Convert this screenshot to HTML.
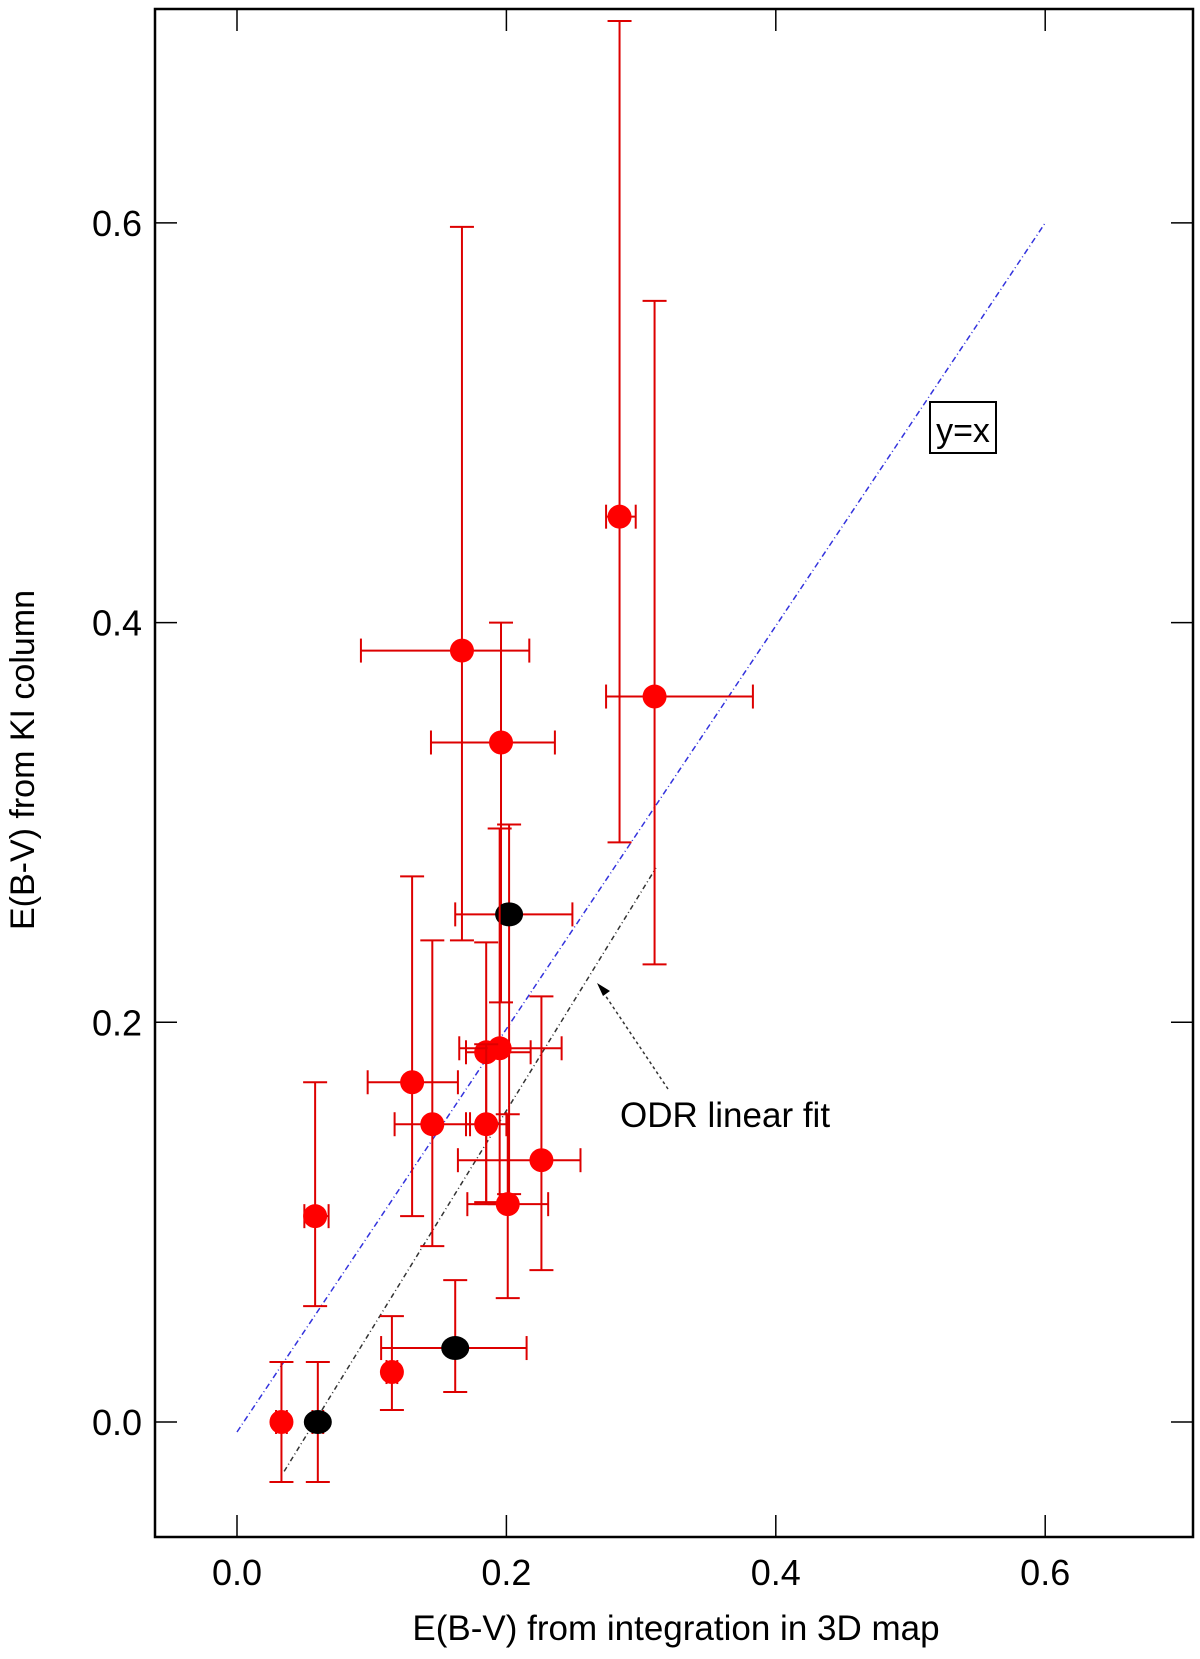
<!DOCTYPE html>
<html><head><meta charset="utf-8"><style>
html,body{margin:0;padding:0;background:#fff;}
svg{display:block;font-family:"Liberation Sans",sans-serif;}
</style></head><body>
<svg id="chart" width="1200" height="1659" viewBox="0 0 1200 1659">
<rect x="155" y="9" width="1038" height="1528" fill="none" stroke="#000" stroke-width="2.5"/>
<g id="axes"></g>
<g id="lines"></g>
<g id="points"></g>
<rect x="930" y="402" width="66" height="51" fill="#fff" stroke="#000" stroke-width="2"/>
<text x="963" y="442" font-size="34" text-anchor="middle">y=x</text>
<text x="620" y="1127" font-size="35">ODR linear fit</text>
<text x="676" y="1640" font-size="35" text-anchor="middle">E(B-V) from integration in 3D map</text>
<text transform="translate(34,760) rotate(-90)" font-size="34" text-anchor="middle">E(B-V) from KI column</text>
</svg>
<script>
const xs   = [0.033,0.060,0.058,0.115,0.162,0.130,0.145,0.167,0.196,0.202,0.185,0.195,0.185,0.201,0.226,0.284,0.310];
const ys   = [0.000,0.000,0.103,0.025,0.037,0.170,0.149,0.386,0.340,0.254,0.185,0.187,0.149,0.109,0.131,0.453,0.363];
const yUp  = [0.030,0.030,0.067,0.028,0.034,0.103,0.092,0.212,0.060,0.045,0.055,0.110,0.040,0.045,0.082,0.248,0.198];
const yDn  = [0.030,0.030,0.045,0.019,0.022,0.067,0.061,0.145,0.130,0.140,0.075,0.078,0.040,0.047,0.055,0.163,0.134];
const xLo  = [0.004,0.004,0.008,0.004,0.055,0.033,0.028,0.075,0.052,0.040,0.015,0.030,0.015,0.030,0.062,0.010,0.036];
const xHi  = [0.004,0.004,0.010,0.004,0.053,0.034,0.028,0.050,0.040,0.047,0.033,0.046,0.015,0.030,0.029,0.012,0.073];
const black= [false,true,false,false,true,false,false,false,false,true,false,false,false,false,false,false,false];
const xTicks=[0.0,0.2,0.4,0.6], xTickLabels=["0.0","0.2","0.4","0.6"];
const yTicks=[0.0,0.2,0.4,0.6], yTickLabels=["0.0","0.2","0.4","0.6"];
const fitSlope=1.094, fitIntercept=-0.063, fitRange=[0.035,0.311];
const idRange=[0.0,0.6];

const X=v=>237+v*1347, Y=v=>1422-v*1998.5;
const NS="http://www.w3.org/2000/svg";
function mk(tag,attrs,parent){const e=document.createElementNS(NS,tag);for(const k in attrs)e.setAttribute(k,attrs[k]);parent.appendChild(e);return e;}
const axes=document.getElementById('axes'),lines=document.getElementById('lines'),pts=document.getElementById('points');
xTicks.forEach((t,i)=>{
  let a=mk('line',{x1:X(t),x2:X(t),y1:1537,y2:1515,stroke:'#000','stroke-width':1.5},axes);
  
  
  let b=mk('line',{x1:X(t),x2:X(t),y1:9,y2:31,stroke:'#000','stroke-width':1.5},axes);
  
  
  let l=mk('text',{x:X(t),y:1585,'font-size':36,'text-anchor':'middle'},axes);l.textContent=xTickLabels[i];
  
  
});
yTicks.forEach((t,i)=>{
  let a=mk('line',{x1:155,x2:177,y1:Y(t),y2:Y(t),stroke:'#000','stroke-width':1.5},axes);
  
  
  let b=mk('line',{x1:1193,x2:1171,y1:Y(t),y2:Y(t),stroke:'#000','stroke-width':1.5},axes);
  
  
  let l=mk('text',{x:142,y:Y(t)+13,'font-size':36,'text-anchor':'end'},axes);l.textContent=yTickLabels[i];
  
  
});
let idl=mk('line',{x1:X(idRange[0]),y1:Y(idRange[0]-0.005),x2:X(idRange[1]),y2:Y(idRange[1]),stroke:'#3333dd','stroke-width':1.5,'stroke-dasharray':'6 3 1 3'},lines);


let fl=mk('line',{x1:X(fitRange[0]),y1:Y(fitSlope*fitRange[0]+fitIntercept),x2:X(fitRange[1]),y2:Y(fitSlope*fitRange[1]+fitIntercept),stroke:'#333','stroke-width':1.5,'stroke-dasharray':'5 3 1 3'},lines);


let ar=mk('line',{x1:668,y1:1089,x2:601,y2:989,stroke:'#333','stroke-width':1.5,'stroke-dasharray':'3 3'},lines);


let ah=mk('polygon',{points:'597,983 610,991 603,996',fill:'#000'},lines);


xs.forEach((x,i)=>{
  const g=mk('g',{stroke:'#dd0000','stroke-width':2,fill:'none'},pts);
  
  
  const cx=X(x),cy=Y(ys[i]),yt=Y(ys[i]+yUp[i]),yb=Y(ys[i]-yDn[i]),xl=X(x-xLo[i]),xr=X(x+xHi[i]);
  mk('line',{x1:cx,x2:cx,y1:yt,y2:yb},g);
  mk('line',{x1:cx-12,x2:cx+12,y1:yt,y2:yt},g);
  mk('line',{x1:cx-12,x2:cx+12,y1:yb,y2:yb},g);
  mk('line',{x1:xl,x2:xr,y1:cy,y2:cy},g);
  mk('line',{x1:xl,x2:xl,y1:cy-12,y2:cy+12},g);
  mk('line',{x1:xr,x2:xr,y1:cy-12,y2:cy+12},g);
  const c=mk('ellipse',{cx:cx,cy:cy,rx:black[i]?14:12,ry:12,fill:black[i]?'#000':'#ff0000'},pts);
  
  
});
</script>
</body></html>
